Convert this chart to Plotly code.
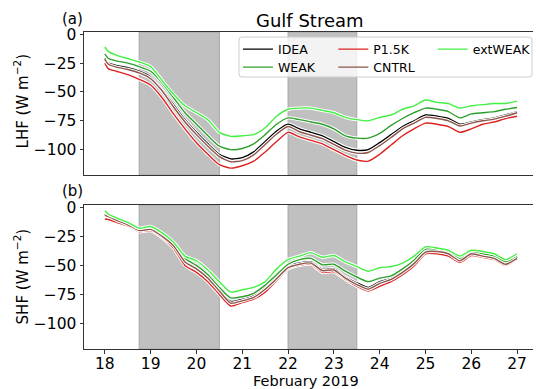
import plotly.graph_objects as go

# ---------------- data ----------------
days = [18.0, 18.08, 18.25, 18.5, 18.75, 19.0, 19.25, 19.5, 19.75, 20.0, 20.25, 20.5,
        20.75, 21.0, 21.25, 21.5, 21.75, 22.0, 22.25, 22.5, 22.75, 23.0, 23.25, 23.5,
        23.75, 24.0, 24.25, 24.5, 24.75, 25.0, 25.25, 25.5, 25.75, 26.0, 26.25, 26.5,
        26.75, 27.0]

lhf_idea = [-21, -25, -27, -29, -32, -37, -48, -61, -74, -85, -95, -104, -108, -107, -102, -93,
            -84, -78, -82, -85, -88, -93, -98, -100.5, -100, -94, -87, -80, -75, -70, -71, -73,
            -78, -76, -74, -72.5, -70, -67]
lhf_weak = [-17, -21, -23, -25, -28, -32, -42, -55, -68, -78, -88, -97, -100, -99, -95, -87,
            -78, -72.5, -74, -76, -78, -82, -88, -90, -90, -86, -79, -73, -68, -64, -65, -67,
            -72.5, -69, -68, -67, -65, -63.5]
lhf_p15k = [-25, -30, -32, -35, -39, -44, -55, -69, -82, -94, -104, -113, -116, -114, -110, -102,
            -93, -85, -89, -92, -95, -100, -105, -109, -110, -104, -96, -88, -82, -77, -78, -80,
            -85, -82, -78, -76, -73, -71]
lhf_cntrl = [-22, -26, -28.5, -30.5, -33.5, -38.5, -49, -63, -76, -87, -97, -106, -110.5, -109.5,
             -104.5, -95.5, -86.5, -80, -84.5, -87.5, -90.5, -95.5, -100.5, -103, -102.5, -96.5,
             -89.5, -82, -77, -72, -73, -75, -79.5, -77, -75, -73.5, -71, -68]
lhf_extweak = [-11, -15, -18, -21, -24, -28, -40, -52, -62, -68, -74, -85, -88.5, -88, -87, -81,
               -71, -65, -64, -64, -66, -68, -72, -74, -75, -72, -70, -65, -62, -57, -59, -60,
               -64, -62, -61, -60, -60, -58]

shf_idea = [-6, -7, -10, -14, -19, -18, -24, -32, -46, -52, -60, -71, -81, -79, -76, -69,
            -60, -51, -48, -47, -53.5, -53, -60, -65, -69, -64, -61, -55, -47, -37.5, -37, -38.5,
            -45, -39, -41, -43, -48, -43]
shf_weak = [-6, -7, -10, -14, -19, -17, -23, -31, -44, -50, -58, -69, -78, -77, -74, -67,
            -58, -49, -45, -44, -49.5, -49, -55, -60, -64, -61, -59, -53, -45.5, -36, -36.5, -38.5,
            -44, -38.5, -40, -42, -47, -42.5]
shf_p15k = [-10, -10.5, -13, -16, -21, -20, -26, -35, -50, -56, -64, -75, -85, -82, -79, -73,
            -63, -53, -50, -49, -56, -55.5, -62, -68, -72, -68, -64, -58, -50.5, -40, -40, -42,
            -47.5, -41.5, -43, -45, -50, -44.5]
shf_cntrl = [-7, -8, -11, -15, -20, -19, -25, -33, -47, -53, -61, -72, -82.5, -80.5, -77.5, -70.5,
             -61.5, -52, -49, -48, -54.5, -54, -61, -66.5, -70.5, -65.5, -62, -56, -48.5, -38.5, -38,
             -40, -46, -40, -42, -44, -49, -44]
shf_extweak = [-3, -6, -9, -13, -18, -16.5, -22, -30, -42, -46, -54, -64, -73, -71, -69, -64,
               -53, -45, -42, -39, -43, -41.5, -47, -51, -55, -52, -51, -48, -42, -34, -35, -37,
               -42, -37, -38, -40, -45, -40]

series_names = ["IDEA", "WEAK", "P1.5K", "CNTRL", "extWEAK"]
series_colors = ["#000000", "#2ca02c", "#dd2222", "#8c564b", "#44f044"]
lhf_all = [lhf_idea, lhf_weak, lhf_p15k, lhf_cntrl, lhf_extweak]
shf_all = [shf_idea, shf_weak, shf_p15k, shf_cntrl, shf_extweak]

shade_spans = [(18.75, 20.5), (22.0, 23.5)]
x_ticks = [18, 19, 20, 21, 22, 23, 24, 25, 26, 27]
y_ticks = [0, -25, -50, -75, -100]

# ---------------- figure ----------------
W, H = 536, 389
ML, MR, MT, MB = 84, 0, 32, 40
PW, PH = W - ML - MR, H - MT - MB


def px(x):
    return (x - ML) / PW


def py(y):
    return (H - MB - y) / PH


FONT = "DejaVu Sans"
fig = go.Figure()

legend_ids = ["legend", "legend2", "legend3", "legend4", "legend5"]
# legend entry top-left pixel positions (matplotlib 3-column layout, column-major)
legend_pos = [(239, 34.5), (239, 52.5), (335, 34.5), (335, 52.5), (435, 34.5)]

for row, data in ((1, lhf_all), (2, shf_all)):
    xa = "x" if row == 1 else "x2"
    ya = "y" if row == 1 else "y2"
    for name, col, lg, vals in zip(series_names, series_colors, legend_ids, data):
        fig.add_trace(go.Scatter(x=days, y=vals, mode="lines", xaxis=xa, yaxis=ya,
                                 line=dict(color="white", width=3.4, shape="spline", smoothing=0.6),
                                 showlegend=False, hoverinfo="skip"))
        fig.add_trace(go.Scatter(x=days, y=vals, mode="lines", xaxis=xa, yaxis=ya, name=name,
                                 line=dict(color=col, width=1.4, shape="spline", smoothing=0.6),
                                 showlegend=(row == 1), legend=lg))

shapes = []
for yref in ("y domain", "y2 domain"):
    xref = "x" if yref == "y domain" else "x2"
    for a, b in shade_spans:
        shapes.append(dict(type="rect", xref=xref, yref=yref, x0=a, x1=b, y0=0, y1=1,
                           fillcolor="#c0c0c0", line=dict(color="#a6a6a6", width=1), layer="below"))

# legend frame (rounded)
lx0, lx1, ly0, ly1 = px(240), px(535), py(77), py(37)
rx, ry = 3 / PW, 3 / PH
path = (f"M {lx0+rx},{ly0} L {lx1-rx},{ly0} Q {lx1},{ly0} {lx1},{ly0+ry} "
        f"L {lx1},{ly1-ry} Q {lx1},{ly1} {lx1-rx},{ly1} L {lx0+rx},{ly1} "
        f"Q {lx0},{ly1} {lx0},{ly1-ry} L {lx0},{ly0+ry} Q {lx0},{ly0} {lx0+rx},{ly0} Z")
shapes.append(dict(type="path", xref="paper", yref="paper", path=path,
                   fillcolor="rgba(255,255,255,0.8)", line=dict(color="#cccccc", width=1),
                   layer="above"))

axis_common = dict(showgrid=False, zeroline=False, showline=True, linecolor="#333333",
                   linewidth=1, tickfont=dict(family=FONT, size=15.5, color="black"))
x_range = [17.545, 27.347]
y_range = [-122, 2]
top_dom = [(H - MB - 175) / PH, 1]
bot_dom = [0, (H - MB - 205) / PH]

leg_common = dict(bgcolor="rgba(0,0,0,0)", borderwidth=0, orientation="v",
                  font=dict(family=FONT, size=12.5, color="black"),
                  xanchor="left", yanchor="top", itemclick=False, tracegroupgap=0)

annotations = [
    dict(text="Gulf Stream", x=px(312), y=py(20), xref="paper", yref="paper", showarrow=False,
         font=dict(family=FONT, size=18, color="black"), xanchor="center", yanchor="middle"),
    dict(text="(a)", x=px(72), y=py(18.5), xref="paper", yref="paper", showarrow=False,
         font=dict(family=FONT, size=15, color="black"), xanchor="center", yanchor="middle"),
    dict(text="(b)", x=px(72), y=py(190.5), xref="paper", yref="paper", showarrow=False,
         font=dict(family=FONT, size=15, color="black"), xanchor="center", yanchor="middle"),
    dict(text="February 2019", x=px(307), y=py(381), xref="paper", yref="paper", showarrow=False,
         font=dict(family=FONT, size=14.5, color="black"), xanchor="center", yanchor="middle"),
    dict(text="LHF (W m<sup>−2</sup>)", x=px(21), y=py(101), xref="paper", yref="paper",
         showarrow=False, textangle=-90, font=dict(family=FONT, size=15, color="black"),
         xanchor="center", yanchor="middle"),
    dict(text="SHF (W m<sup>−2</sup>)", x=px(21), y=py(276), xref="paper", yref="paper",
         showarrow=False, textangle=-90, font=dict(family=FONT, size=15, color="black"),
         xanchor="center", yanchor="middle"),
]

legends = {}
for lid, (lxp, lyp) in zip(legend_ids, legend_pos):
    legends[lid] = dict(leg_common, x=px(lxp), y=py(lyp))

fig.update_layout(
    width=W, height=H, margin=dict(l=ML, r=MR, t=MT, b=MB, pad=0),
    paper_bgcolor="white", plot_bgcolor="white",
    font=dict(family=FONT, color="black"),
    xaxis=dict(axis_common, domain=[0, 1], anchor="y", range=x_range, mirror=True,
               ticks="", showticklabels=False, tickvals=x_ticks),
    xaxis2=dict(axis_common, domain=[0, 1], anchor="y2", range=x_range, mirror=True,
                ticks="outside", ticklen=3.5, tickwidth=1, tickcolor="#333333",
                tickvals=x_ticks, ticktext=[str(t) for t in x_ticks], ticklabelstandoff=-3),
    yaxis=dict(axis_common, domain=top_dom, anchor="x", range=y_range, ticks="outside",
               ticklen=3.5, tickwidth=1, tickcolor="#333333", tickvals=y_ticks),
    yaxis2=dict(axis_common, domain=bot_dom, anchor="x2", range=y_range, ticks="outside",
                ticklen=3.5, tickwidth=1, tickcolor="#333333", tickvals=y_ticks),
    shapes=shapes,
    annotations=annotations,
    showlegend=True,
    **legends,
)

fig.write_html("out.html")
